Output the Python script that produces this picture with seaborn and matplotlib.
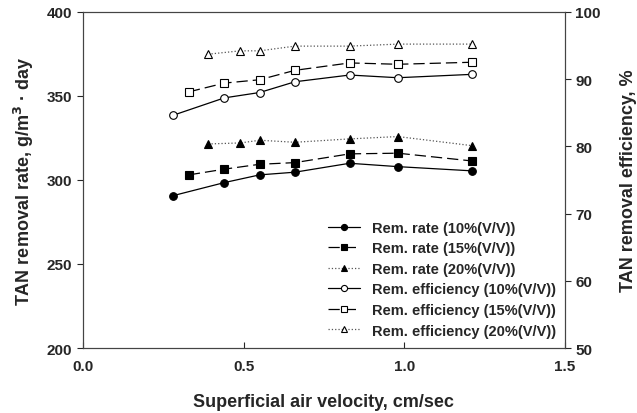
import matplotlib
matplotlib.use("Agg")
import matplotlib.pyplot as plt
import seaborn as sns

sns.set_style("ticks")
plt.rcParams['font.family'] = ['Liberation Sans', 'DejaVu Sans']
plt.rcParams['font.weight'] = 'bold'

# velocities (cm/sec)
vel_10 = [0.28, 0.44, 0.55, 0.66, 0.83, 0.98, 1.21]
vel_15 = [0.33, 0.44, 0.55, 0.66, 0.83, 0.98, 1.21]
vel_20 = [0.39, 0.49, 0.55, 0.66, 0.83, 0.98, 1.21]

# removal rate, g/m3 day
rate_10 = [290.6, 298.4, 303.0, 304.6, 309.9, 307.9, 305.4]
rate_15 = [303.0, 306.4, 309.3, 310.3, 315.5, 315.9, 311.3]
rate_20 = [321.4, 322.0, 323.6, 322.4, 324.4, 325.8, 320.4]

# removal efficiency, %
eff_10 = [84.6, 87.2, 88.0, 89.6, 90.6, 90.2, 90.7]
eff_15 = [88.1, 89.4, 89.9, 91.3, 92.4, 92.2, 92.5]
eff_20 = [93.7, 94.2, 94.2, 94.9, 94.9, 95.2, 95.2]

fig = plt.figure(figsize=(6.37, 4.14), dpi=100)
ax = fig.add_axes([0.130, 0.157, 0.757, 0.812])
ax2 = ax.twinx()

dash = (0, (9, 4))
styles = ['-', dash, ':']
markers = ['o', 's', '^']


def draw(a, x, y, i, face, label):
    sns.lineplot(x=x, y=y, ax=a, label=label)
    ln = a.lines[-1]
    ln.set_color('black')
    ln.set_linewidth(0.9)
    ln.set_linestyle(styles[i])
    ln.set_marker(markers[i])
    ln.set_markersize(5.5)
    ln.set_markeredgewidth(0.8)
    ln.set_markeredgecolor('black')
    ln.set_markerfacecolor(face)
    if i == 2:
        ln.set_color('#555555')
        ln.set_markeredgecolor('black')
    return ln


handles = []
handles.append(draw(ax, vel_10, rate_10, 0, 'black', 'Rem. rate (10%(V/V))'))
handles.append(draw(ax, vel_15, rate_15, 1, 'black', 'Rem. rate (15%(V/V))'))
handles.append(draw(ax, vel_20, rate_20, 2, 'black', 'Rem. rate (20%(V/V))'))
handles.append(draw(ax2, vel_10, eff_10, 0, 'white', 'Rem. efficiency (10%(V/V))'))
handles.append(draw(ax2, vel_15, eff_15, 1, 'white', 'Rem. efficiency (15%(V/V))'))
handles.append(draw(ax2, vel_20, eff_20, 2, 'white', 'Rem. efficiency (20%(V/V))'))

ax.set_xlim(0, 1.5)
ax.set_ylim(200, 400)
ax2.set_ylim(50, 100)
ax.set_xticks([0.0, 0.5, 1.0, 1.5])
ax.set_xticklabels(['0.0', '0.5', '1.0', '1.5'])
ax.set_yticks([200, 250, 300, 350, 400])
ax2.set_yticks([50, 60, 70, 80, 90, 100])

ax.tick_params(axis='x', direction='in', labelsize=11, pad=8, length=4)
ax.tick_params(axis='y', direction='out', labelsize=11, length=4)
ax2.tick_params(axis='y', direction='out', labelsize=11, length=4)

for a in (ax, ax2):
    for s in a.spines.values():
        s.set_linewidth(0.8)
        s.set_color('#444444')

ax.set_xlabel('Superficial air velocity, cm/sec', fontsize=13, fontweight='bold', labelpad=14)
ax.set_ylabel('TAN removal rate, g/m$^3$ · day', fontsize=13, fontweight='bold', labelpad=8)
ax2.set_ylabel('TAN removal efficiency, %', fontsize=13, fontweight='bold', labelpad=14)

for a in (ax, ax2):
    if a.get_legend() is not None:
        a.get_legend().remove()
ax2.legend(handles, [h.get_label() for h in handles], loc='lower right', frameon=False,
           handlelength=2.2, labelspacing=0.45, borderaxespad=0.2, markerscale=0.8,
           bbox_to_anchor=(1.0, 0.005), prop={'weight': 'bold', 'size': 10.5})

fig.savefig('out.png', dpi=100)
